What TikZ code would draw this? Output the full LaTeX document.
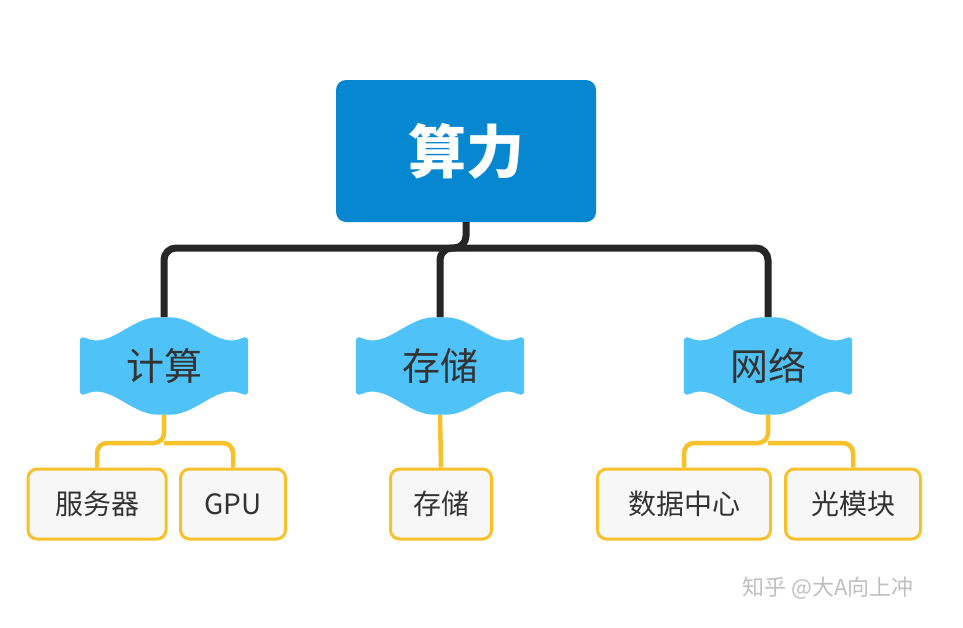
\documentclass[tikz,border=0pt]{standalone}
\usepackage{fontspec}
\setmainfont{Noto Sans CJK SC}
\usetikzlibrary{calc}
\definecolor{rootblue}{HTML}{0787D0}
\definecolor{midblue}{HTML}{4FC3F7}
\definecolor{gold}{HTML}{F6C12B}
\definecolor{leaffill}{HTML}{F7F7F7}
\definecolor{txt}{HTML}{333333}
\newcommand\mymidshape[1]{%
  \fill[midblue,rounded corners=6pt] ($(#1.north west)+(0,18)$) to[out=-25,in=180] (#1.north) to[out=0,in=-155] ($(#1.north east)+(0,18)$) -- ($(#1.south east)+(0,-18)$) to[out=155,in=0] (#1.south) to[out=180,in=25] ($(#1.south west)+(0,-18)$) -- cycle;}
\begin{document}
\begin{tikzpicture}[x=1pt,y=-1pt,
  root/.style={fill=rootblue,rounded corners=10pt,minimum width=260pt,minimum height=142pt,text=white,font=\bfseries\fontsize{58}{60}\selectfont},
  mid/.style={minimum width=168pt,minimum height=97pt,text=txt,font=\fontsize{38}{40}\selectfont,inner sep=0pt},
  leaf/.style={draw=gold,line width=3pt,fill=leaffill,rounded corners=9pt,minimum height=70pt,text=txt,font=\fontsize{28}{30}\selectfont,inner sep=0pt},
  blk/.style={line width=7pt,draw=black!85,rounded corners=12pt},
  ylw/.style={line width=4.5pt,draw=gold,rounded corners=10pt}]
\useasboundingbox[fill=white] (0,0) rectangle (963,627);
\node[root] (r) at (466,151) {算力};
\node[mid] (m1) at (164,366) {};
\node[mid] (m2) at (440,366) {};
\node[mid] (m3) at (768,366) {};
\node[leaf,minimum width=138pt] (l1) at (97,504) {服务器};
\node[leaf,minimum width=105pt] (l2) at (233,504) {GPU};
\node[leaf,minimum width=101pt] (l3) at (441,504) {存储};
\node[leaf,minimum width=173pt] (l4) at (684,504) {数据中心};
\node[leaf,minimum width=135pt] (l5) at (853,504) {光模块};
\draw[blk] (r.south) -- (466,248) -| (m1.north);
\draw[blk] (466,248) -| (m3.north);
\draw[blk] (466,248) -| (m2.north);
\draw[ylw] (m1.south) -- (164,443) -| (l1.north);
\draw[ylw] (164,443) -| (l2.north);
\draw[ylw] (m2.south) -- (l3.north);
\draw[ylw] (m3.south) -- (768,443) -| (l4.north);
\draw[ylw] (768,443) -| (l5.north);
\mymidshape{m1}\mymidshape{m2}\mymidshape{m3}
\node[mid] at (m1) {计算};
\node[mid] at (m2) {存储};
\node[mid] at (m3) {网络};
\node[text=black!25,font=\fontsize{22}{24}\selectfont] (wm) at (828,588) {知乎 @大A向上冲};
\end{tikzpicture}
\end{document}
